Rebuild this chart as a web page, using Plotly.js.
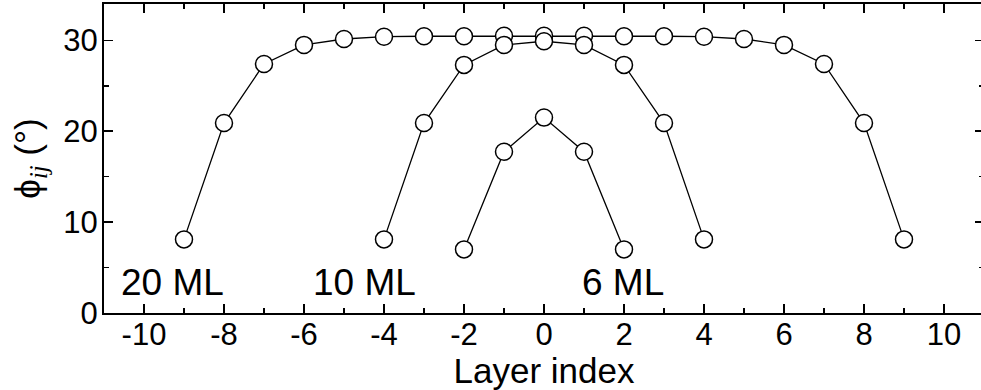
<!DOCTYPE html>
<html>
<head>
<meta charset="utf-8">
<script src="https://cdn.plot.ly/plotly-3.0.1.min.js"></script>
<style>
  html, body { margin: 0; padding: 0; overflow: hidden; background: #fff; }
  #chart { width: 990px; height: 390px; }
</style>
</head>
<body>
<div id="chart"></div>
<script>
// Tilt angle per layer for three film thicknesses
const layers20 = [-9, -8, -7, -6, -5, -4, -3, -2, -1, 0, 1, 2, 3, 4, 5, 6, 7, 8, 9];
const phi20 = [8.1, 20.9, 27.4, 29.5, 30.15, 30.4, 30.45, 30.45, 30.5, 30.5, 30.5, 30.45, 30.45, 30.4, 30.15, 29.5, 27.4, 20.9, 8.1];

const layers10 = [-4, -3, -2, -1, 0, 1, 2, 3, 4];
const phi10 = [8.1, 20.9, 27.3, 29.5, 29.9, 29.5, 27.3, 20.9, 8.1];

const layers6 = [-2, -1, 0, 1, 2];
const phi6 = [7.0, 17.75, 21.5, 17.75, 7.0];

const seriesNames = ['20 ML', '10 ML', '6 ML'];
const labelX = [-9.3, -4.48, 1.98];
const labelY = [3.35, 3.35, 3.35];

const xTickVals = [-10, -8, -6, -4, -2, 0, 2, 4, 6, 8, 10];
const yTickVals = [0, 10, 20, 30];

const FONT = '"Liberation Sans", Arial, Helvetica, sans-serif';
const SERIF = '"Liberation Serif", "Times New Roman", serif';

function series(x, y, name) {
  return {
    type: 'scatter',
    mode: 'lines+markers',
    x: x,
    y: y,
    name: name,
    line: { color: '#000', width: 1.3 },
    marker: {
      symbol: 'circle',
      size: 17,
      color: '#fff',
      line: { color: '#000', width: 1.5 }
    },
    showlegend: false,
    hoverinfo: 'skip'
  };
}

const traces = [
  series(layers20, phi20, seriesNames[0]),
  series(layers10, phi10, seriesNames[1]),
  series(layers6, phi6, seriesNames[2])
];

const axisCommon = {
  showgrid: false,
  zeroline: false,
  showline: true,
  linecolor: '#000',
  linewidth: 2,
  mirror: 'ticks',
  ticks: 'inside',
  ticklen: 9,
  tickwidth: 1.5,
  tickcolor: '#000',
  tickfont: { family: FONT, size: 31, color: '#000' }
};

const layout = {
  width: 990,
  height: 390,
  margin: { l: 104, r: 6, t: 4, b: 77 },
  paper_bgcolor: '#fff',
  plot_bgcolor: '#fff',
  font: { family: FONT, color: '#000' },
  xaxis: Object.assign({}, axisCommon, {
    range: [-11, 11],
    tickmode: 'array',
    tickvals: xTickVals,
    ticktext: xTickVals.map(String),
    ticklabelstandoff: -7,
    minor: { dtick: 1, tick0: 0, ticks: 'inside', ticklen: 5, tickwidth: 1.5, tickcolor: '#000' },
    title: { text: 'Layer index', font: { family: FONT, size: 35, color: '#000' }, standoff: 0 }
  }),
  yaxis: Object.assign({}, axisCommon, {
    range: [0, 34],
    tickmode: 'array',
    tickvals: yTickVals,
    ticktext: yTickVals.map(String),
    ticklabelstandoff: -2,
    minor: { dtick: 5, tick0: 0, ticks: 'inside', ticklen: 5, tickwidth: 1.5, tickcolor: '#000' },
    title: {
      text: '\u03d5<sub><span style="font-family:' + SERIF.replace(/"/g, "'") + '"><i>ij</i></span></sub> (\u00b0)',
      font: { family: FONT, size: 35, color: '#000' },
      standoff: 12
    }
  }),
  annotations: seriesNames.map((name, i) => ({
    x: labelX[i],
    y: labelY[i],
    xref: 'x',
    yref: 'y',
    text: name,
    showarrow: false,
    xanchor: 'center',
    yanchor: 'middle',
    font: { family: FONT, size: 37, color: '#000' }
  }))
};

Plotly.newPlot('chart', traces, layout, { displayModeBar: false, staticPlot: true });
</script>
</body>
</html>
